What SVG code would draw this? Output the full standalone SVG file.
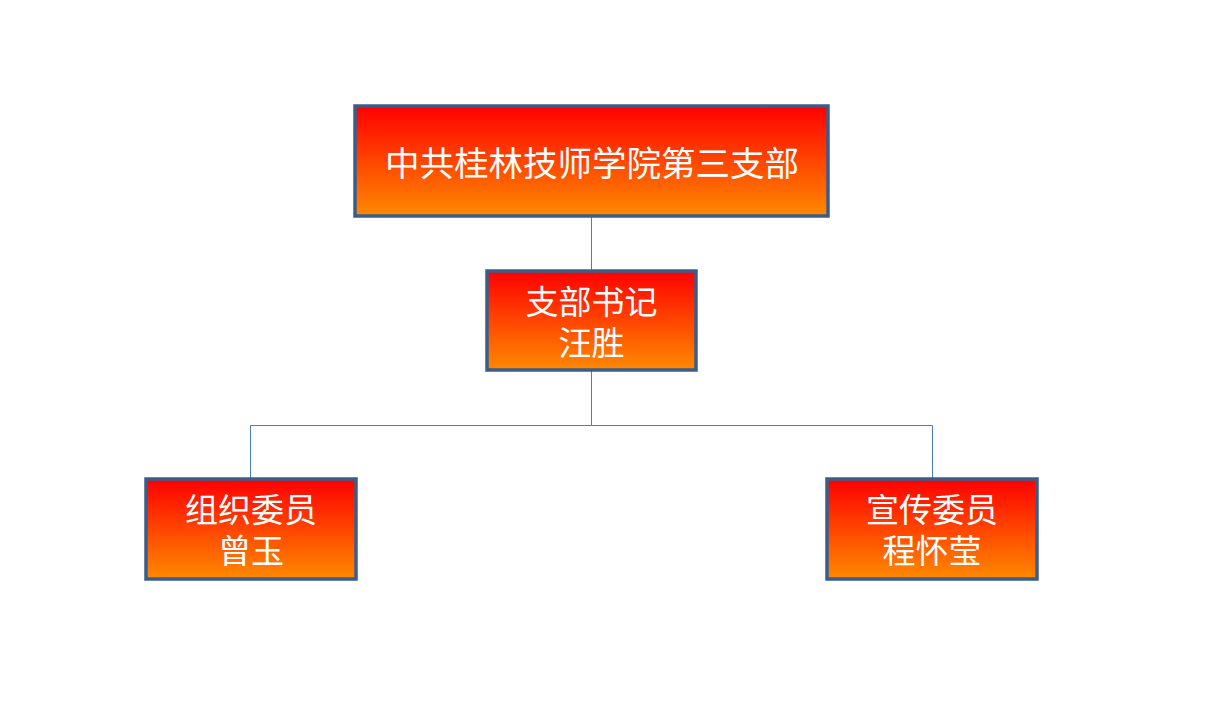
<svg xmlns="http://www.w3.org/2000/svg" width="1218" height="708" viewBox="0 0 1218 708">
<defs>
<linearGradient id="g" x1="0" y1="0" x2="0" y2="1">
<stop offset="0" stop-color="#ff0000"/>
<stop offset="1" stop-color="#ff8a00"/>
</linearGradient>
<style>
.box{fill:url(#g);stroke:#3b5d8a;stroke-width:3.5}
.t{font-family:"Noto Sans CJK SC",sans-serif;font-size:33px;fill:#ffffff;text-anchor:middle;dominant-baseline:central}
.c{fill:none;stroke:#4a7ebb;stroke-width:1}
</style>
</defs>
<rect width="1218" height="708" fill="#ffffff"/>
<g id="connectors">
<path class="c" d="M591.5 217V270"/>
<path class="c" d="M591.5 371V425.5H250.5V478"/>
<path class="c" d="M591.5 425.5H932.5V478"/>
</g>
<g id="n1">
<rect class="box" x="355" y="106" width="473" height="110"/>
<text class="t" x="592" y="161" style="font-size:34.5px">中共桂林技师学院第三支部</text>
</g>
<g id="n2">
<rect class="box" x="487" y="271" width="209" height="99"/>
<text class="t" x="591.5" y="300">支部书记</text>
<text class="t" x="591.5" y="341">汪胜</text>
</g>
<g id="n3">
<rect class="box" x="146" y="479" width="210" height="100"/>
<text class="t" x="251" y="508">组织委员</text>
<text class="t" x="251" y="549">曾玉</text>
</g>
<g id="n4">
<rect class="box" x="827" y="479" width="210" height="100"/>
<text class="t" x="932" y="508">宣传委员</text>
<text class="t" x="932" y="549">程怀莹</text>
</g>
</svg>
